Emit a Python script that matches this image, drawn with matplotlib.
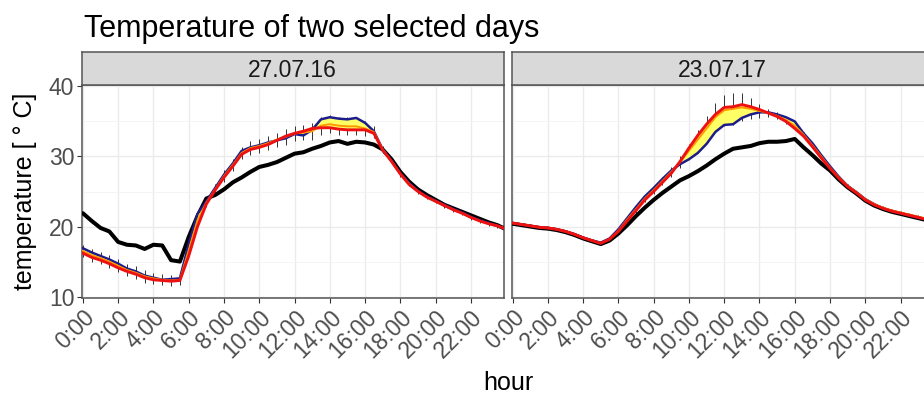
import matplotlib
matplotlib.use('Agg')
import matplotlib.pyplot as plt
import numpy as np

plt.rcParams['font.family'] = ['Liberation Sans', 'DejaVu Sans']

# half-hour readings, last point at 23:50
hours = list(np.arange(0, 24, 0.5)) + [23.83]
tick_hours = [0, 2, 4, 6, 8, 10, 12, 14, 16, 18, 20, 22]
tick_labels = ['0:00', '2:00', '4:00', '6:00', '8:00', '10:00', '12:00',
               '14:00', '16:00', '18:00', '20:00', '22:00']
days = ['27.07.16', '23.07.17']

# 27.07.16
black1 = [21.9, 20.8, 19.8, 19.3, 17.8, 17.4, 17.3, 16.8, 17.4, 17.3, 15.2, 15.0,
          18.5, 21.5, 24.0, 24.5, 25.3, 26.3, 27.0, 27.8, 28.5, 28.8, 29.2, 29.8,
          30.4, 30.6, 31.1, 31.5, 32.0, 32.2, 31.8, 32.1, 32.0, 31.7, 31.0, 29.6,
          27.8, 26.4, 25.3, 24.5, 23.8, 23.1, 22.6, 22.1, 21.6, 21.1, 20.6, 20.2,
          19.8]
red1 = [16.2, 15.6, 15.2, 14.7, 14.1, 13.6, 13.2, 12.7, 12.4, 12.3, 12.2, 12.3,
        15.8, 20.0, 23.2, 25.2, 27.0, 28.6, 30.3, 31.0, 31.3, 31.7, 32.3, 32.9,
        33.3, 33.6, 34.0, 34.1, 34.1, 33.9, 33.8, 33.8, 33.8, 33.3, 30.9, 29.3,
        27.5, 26.0, 25.0, 24.2, 23.6, 23.0, 22.4, 21.9, 21.3, 20.8, 20.4, 20.1,
        19.8]
blue1 = [16.9, 16.3, 15.8, 15.3, 14.7, 14.0, 13.6, 13.0, 12.7, 12.4, 12.5, 12.6,
         17.5, 21.8, 23.6, 25.5, 27.4, 29.0, 30.8, 31.3, 31.6, 32.0, 32.3, 32.6,
         33.2, 33.0, 33.8, 35.3, 35.6, 35.4, 35.3, 35.5, 34.8, 33.6, 31.0, 29.4,
         27.6, 26.2, 25.1, 24.3, 23.7, 23.1, 22.5, 22.0, 21.4, 20.9, 20.5, 20.1,
         19.8]
orange1 = [16.5, 15.9, 15.5, 15.0, 14.4, 13.8, 13.4, 12.9, 12.6, 12.4, 12.3, 12.4,
           16.6, 20.9, 23.4, 25.3, 27.2, 28.8, 30.5, 31.2, 31.5, 31.9, 32.4, 32.8,
           33.3, 33.4, 33.6, 34.4, 34.6, 34.4, 34.3, 34.3, 34.0, 33.5, 31.0, 29.3,
           27.5, 26.1, 25.0, 24.2, 23.6, 23.0, 22.4, 21.9, 21.3, 20.8, 20.4, 20.1,
           19.8]
err1 = [0.9, 0.9, 0.9, 0.9, 0.9, 0.9, 0.9, 0.9, 0.8, 0.8, 0.8, 0.8,
        0.6, 0.6, 0.6, 0.7, 0.8, 0.9, 0.9, 1.0, 1.0, 1.0, 1.0, 1.1,
        1.1, 1.1, 1.2, 1.3, 1.3, 1.3, 1.3, 1.3, 1.1, 0.8, 0.5, 0.4,
        0.4, 0.3, 0.3, 0.3, 0.3, 0.3, 0.3, 0.3, 0.3, 0.3, 0.3, 0.3,
        0.3]

# 23.07.17
black2 = [20.4, 20.2, 20.0, 19.8, 19.7, 19.5, 19.2, 18.8, 18.3, 17.9, 17.5, 18.0,
          19.0, 20.2, 21.5, 22.7, 23.8, 24.8, 25.7, 26.6, 27.2, 27.9, 28.7, 29.6,
          30.4, 31.1, 31.3, 31.5, 31.9, 32.1, 32.1, 32.2, 32.5, 31.3, 30.2, 29.0,
          28.0, 26.7, 25.6, 24.7, 23.7, 23.0, 22.5, 22.1, 21.8, 21.5, 21.2, 20.9,
          20.6]
red2 = [20.5, 20.3, 20.1, 19.9, 19.8, 19.6, 19.3, 18.9, 18.4, 18.0, 17.6, 18.2,
        19.3, 20.8, 22.3, 23.8, 25.0, 26.3, 27.6, 29.3, 31.2, 33.0, 34.6, 36.0,
        37.0, 37.1, 37.4, 37.1, 36.7, 36.2, 35.7, 35.0, 34.0, 32.9, 31.4, 29.8,
        28.3, 26.9, 25.7, 24.8, 23.8, 23.1, 22.6, 22.2, 21.9, 21.6, 21.3, 21.0,
        20.7]
blue2 = [20.5, 20.3, 20.1, 19.9, 19.8, 19.6, 19.3, 18.9, 18.4, 18.0, 17.7, 18.3,
         19.6, 21.2, 22.8, 24.3, 25.5, 26.8, 28.0, 28.9, 29.6, 30.5, 31.8, 33.5,
         34.5, 34.6, 35.5, 36.0, 36.3, 36.3, 36.0, 35.6, 35.0, 33.3, 31.9, 30.2,
         28.6, 27.1, 25.8, 24.9, 23.9, 23.2, 22.6, 22.2, 21.9, 21.6, 21.3, 21.0,
         20.7]
orange2 = [20.5, 20.3, 20.1, 19.9, 19.8, 19.6, 19.3, 18.9, 18.4, 18.0, 17.6, 18.2,
           19.4, 21.0, 22.5, 24.0, 25.2, 26.5, 27.8, 29.2, 30.8, 32.4, 34.0, 35.6,
           36.6, 36.8, 37.0, 36.8, 36.5, 36.2, 35.8, 35.2, 34.4, 33.1, 31.6, 30.0,
           28.4, 27.0, 25.8, 24.9, 23.9, 23.2, 22.7, 22.3, 22.0, 21.7, 21.4, 21.1,
           20.8]
err2 = [0.2, 0.2, 0.2, 0.2, 0.2, 0.2, 0.2, 0.2, 0.2, 0.2, 0.2, 0.2,
        0.3, 0.4, 0.5, 0.5, 0.6, 0.6, 0.7, 0.8, 1.0, 1.4, 1.8, 2.0,
        2.2, 2.3, 2.0, 1.5, 1.0, 0.6, 0.5, 0.5, 0.5, 0.4, 0.4, 0.3,
        0.2, 0.2, 0.2, 0.2, 0.2, 0.2, 0.2, 0.2, 0.2, 0.2, 0.2, 0.2,
        0.2]

panels = [(black1, red1, blue1, orange1, err1), (black2, red2, blue2, orange2, err2)]

W, H = 924, 396
fig = plt.figure(figsize=(W / 100, H / 100), dpi=100)
fig.patch.set_facecolor('white')

lefts = [82, 511.7]
pw, pb, ph = 421.5, 98, 213
strip_h = 33.3

for i, (black, red, blue, orange, err) in enumerate(panels):
    ax = fig.add_axes([lefts[i] / W, pb / H, pw / W, ph / H])
    x = np.array(hours)
    o = np.array(orange)
    e = np.array(err)
    ax.vlines(x, o - e, o + e, color='#333333', lw=0.7, zorder=2)
    ax.plot(x, black, color='black', lw=2.9, zorder=3, solid_capstyle='round')
    ax.fill_between(x, red, blue, color='#FFFF66', lw=0, zorder=4)
    ax.plot(x, blue, color='#1C1C8A', lw=1.8, zorder=5)
    ax.plot(x, orange, color='#FF9900', lw=1.4, zorder=6)
    ax.plot(x, red, color='#EE1111', lw=2.1, zorder=7)

    ax.set_xlim(-0.05, 23.85)
    ax.set_ylim(9.8, 40.2)
    ax.set_xticks(tick_hours)
    ax.set_xticklabels(tick_labels, rotation=45, ha='right', va='top',
                       rotation_mode='anchor')
    ax.set_yticks([10, 20, 30, 40])
    ax.set_yticks([15, 25, 35], minor=True)
    ax.grid(True, which='major', color='#EBEBEB', lw=1.0, zorder=0)
    ax.grid(True, which='minor', axis='y', color='#F3F3F3', lw=0.6, zorder=0)
    ax.set_axisbelow(True)
    ax.tick_params(axis='both', which='major', length=3.5, width=0.8,
                   color='#333333', labelcolor='#4D4D4D', labelsize=16.5, pad=2)
    ax.tick_params(axis='y', which='minor', length=0)
    if i == 1:
        ax.tick_params(axis='y', labelleft=False, length=0)
    for s in ax.spines.values():
        s.set_color('#555555')
        s.set_linewidth(1.1)

    sax = fig.add_axes([lefts[i] / W, (pb + ph) / H, pw / W, strip_h / H])
    sax.set_facecolor('#D9D9D9')
    sax.set_xticks([])
    sax.set_yticks([])
    for s in sax.spines.values():
        s.set_color('#555555')
        s.set_linewidth(1.1)
    sax.text(0.5, 0.45, days[i], ha='center', va='center', fontsize=16.5,
             color='#1A1A1A', transform=sax.transAxes)

fig.text(84 / W, 1 - 37.3 / H, 'Temperature of two selected days', fontsize=22,
         ha='left', va='baseline', color='black')
fig.text(25 / W, 1 - 191.7 / H, 'temperature [ \u00b0 C]', rotation=90,
         ha='center', va='center', fontsize=18, color='black')
fig.text(508 / W, 6 / H, 'hour', ha='center', va='baseline', fontsize=18,
         color='black')

fig.savefig('out.png', dpi=100)
